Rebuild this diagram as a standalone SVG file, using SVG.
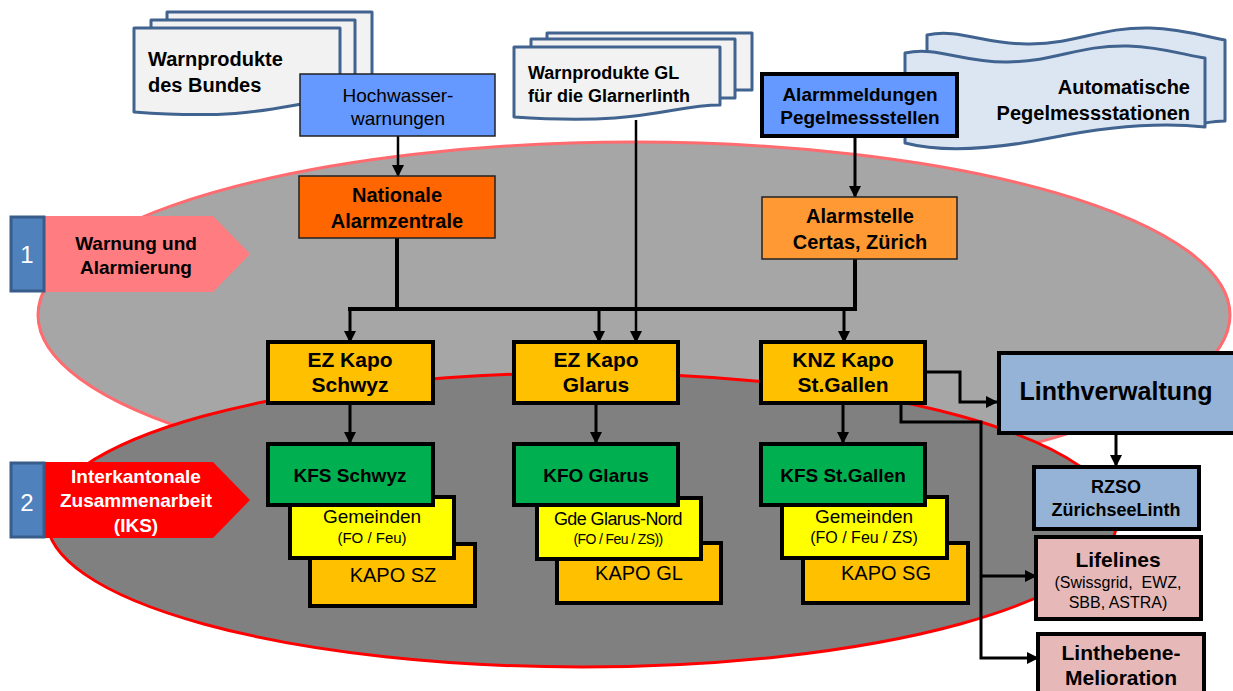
<svg xmlns="http://www.w3.org/2000/svg" width="1233" height="691" viewBox="0 0 1233 691">
  <style>
    text { font-family: "Liberation Sans", Arial, sans-serif; fill: #000; }
    .b { font-weight: bold; }
    .c { text-anchor: middle; }
    .w { fill: #fff; }
    .doc { fill: #f2f2f2; stroke: #41638f; stroke-width: 3; stroke-linejoin: round; }
    .tape { fill: #dce6f2; stroke: #41638f; stroke-width: 3; stroke-linejoin: round; }
    .heavy { stroke: #000; stroke-width: 4; }
    .thin { stroke: #222; stroke-width: 1.5; }
    .num { fill: #4f81bd; stroke: #385d8a; stroke-width: 3; }
    .conn path { fill: none; stroke: #000; stroke-width: 3; }
    .conn path.bus { stroke-width: 4; }
    .conn path.fine { stroke-width: 2.5; }
  </style>
  <defs>
    <marker id="arrow" markerUnits="userSpaceOnUse" markerWidth="12" markerHeight="12" refX="11" refY="6" orient="auto">
      <path d="M0,0 L12,6 L0,12 Z" fill="#000"/>
    </marker>
  </defs>

  <!-- background zones -->
  <g id="zone-warnung">
    <ellipse cx="634" cy="315" rx="596" ry="173" fill="#a6a6a6" stroke="#ff6b6f" stroke-width="3"/>
  </g>
  <g id="zone-iks">
    <ellipse cx="582" cy="520" rx="535" ry="147" fill="#808080" stroke="#ff0000" stroke-width="3"/>
  </g>

  <!-- level labels -->
  <g id="label-1">
    <path d="M44,216 H213 L250,254 L213,292 H44 Z" fill="#ff7c80"/>
    <rect x="11" y="217" width="33" height="74" class="num"/>
    <text x="27" y="263" class="c w" font-size="24">1</text>
    <text x="136" y="250" class="b c" font-size="19">Warnung und</text>
    <text x="136" y="274" class="b c" font-size="19">Alarmierung</text>
  </g>
  <g id="label-2">
    <path d="M44,462 H213 L250,500 L213,538 H44 Z" fill="#ff0000"/>
    <rect x="11" y="463" width="33" height="74" class="num"/>
    <text x="27" y="511" class="c w" font-size="24">2</text>
    <text x="136" y="483" class="b c w" font-size="19">Interkantonale</text>
    <text x="136" y="507" class="b c w" font-size="19">Zusammenarbeit</text>
    <text x="136" y="532" class="b c w" font-size="19">(IKS)</text>
  </g>

  <!-- source documents -->
  <g id="warnprodukte-bund">
    <path class="doc" d="M167,20 V12 H372 V86 H355"/>
    <path class="doc" d="M151,28 V20 H355 V94 H340"/>
    <path class="doc" d="M134,28 H340 V100 C290,100 268,122 134,112 Z"/>
    <text x="148" y="66" class="b" font-size="20">Warnprodukte</text>
    <text x="148" y="92" class="b" font-size="20">des Bundes</text>
  </g>
  <g id="warnprodukte-gl">
    <path class="doc" d="M547,39 V33 H752 V90 H735"/>
    <path class="doc" d="M531,47 V39 H735 V98 H720"/>
    <path class="doc" d="M514,47 H720 V105 C670,105 648,126 514,117 Z"/>
    <text x="528" y="79" class="b" font-size="18">Warnprodukte GL</text>
    <text x="528" y="102" class="b" font-size="18">für die Glarnerlinth</text>
  </g>
  <g id="pegelmessstationen">
    <path class="tape" d="M927,53 V35 C960,28 985,45 1030,44 C1080,43 1100,27 1150,28 C1185,29 1210,38 1225,40 V121 C1218,121 1211,122 1205,123"/>
    <path class="tape" d="M905,53 C938,46 963,63 1008,62 C1058,61 1078,45 1128,46 C1163,47 1188,56 1205,58 V127 C1160,122 1110,126 1050,138 C990,150 940,152 905,143 Z"/>
    <text x="1190" y="94" class="b" font-size="20" text-anchor="end">Automatische</text>
    <text x="1190" y="120" class="b" font-size="20" text-anchor="end">Pegelmessstationen</text>
  </g>

  <!-- connectors -->
  <g id="connectors" class="conn">
    <path class="fine" d="M398,136 V176" marker-end="url(#arrow)"/>
    <path d="M855,137 V197" marker-end="url(#arrow)"/>
    <path class="bus" d="M397,238 V309"/>
    <path class="bus" d="M855,259 V309"/>
    <path class="bus" d="M348,309 H857"/>
    <path d="M350,309 V342" marker-end="url(#arrow)"/>
    <path d="M599,309 V342" marker-end="url(#arrow)"/>
    <path d="M844,309 V342" marker-end="url(#arrow)"/>
    <path class="fine" d="M636,120 V342" marker-end="url(#arrow)"/>
    <path d="M350,403 V443" marker-end="url(#arrow)"/>
    <path d="M596,403 V443" marker-end="url(#arrow)"/>
    <path d="M843,403 V443" marker-end="url(#arrow)"/>
    <path d="M925,372 H960 V402 H997" marker-end="url(#arrow)"/>
    <path d="M901,403 V422 H981 V658 H1038" marker-end="url(#arrow)"/>
    <path d="M981,576 H1036" marker-end="url(#arrow)"/>
    <path d="M1116,433 V466" marker-end="url(#arrow)"/>
  </g>

  <!-- level 1 nodes -->
  <g id="hochwasserwarnungen">
    <rect x="300" y="74" width="195" height="62" fill="#6699ff" class="thin"/>
    <text x="398" y="102" class="c" font-size="19">Hochwasser-</text>
    <text x="398" y="125" class="c" font-size="19">warnungen</text>
  </g>
  <g id="alarmmeldungen">
    <rect x="762" y="74" width="195" height="62" fill="#6699ff" class="heavy"/>
    <text x="860" y="101" class="b c" font-size="19">Alarmmeldungen</text>
    <text x="860" y="124" class="b c" font-size="19">Pegelmessstellen</text>
  </g>
  <g id="nationale-alarmzentrale">
    <rect x="299" y="176" width="196" height="62" fill="#ff6600" class="thin"/>
    <text x="397" y="202" class="b c" font-size="20">Nationale</text>
    <text x="397" y="228" class="b c" font-size="20">Alarmzentrale</text>
  </g>
  <g id="alarmstelle-certas">
    <rect x="762" y="197" width="195" height="62" fill="#ff9933" class="thin"/>
    <text x="860" y="223" class="b c" font-size="20">Alarmstelle</text>
    <text x="860" y="249" class="b c" font-size="20">Certas, Zürich</text>
  </g>

  <!-- cantonal emergency centres -->
  <g id="ez-kapo-schwyz">
    <rect x="268" y="342" width="165" height="61" fill="#ffc000" class="heavy"/>
    <text x="350" y="367" class="b c" font-size="21">EZ Kapo</text>
    <text x="350" y="392" class="b c" font-size="21">Schwyz</text>
  </g>
  <g id="ez-kapo-glarus">
    <rect x="514" y="342" width="164" height="61" fill="#ffc000" class="heavy"/>
    <text x="596" y="367" class="b c" font-size="21">EZ Kapo</text>
    <text x="596" y="392" class="b c" font-size="21">Glarus</text>
  </g>
  <g id="knz-kapo-stgallen">
    <rect x="761" y="342" width="164" height="61" fill="#ffc000" class="heavy"/>
    <text x="843" y="367" class="b c" font-size="21">KNZ Kapo</text>
    <text x="843" y="392" class="b c" font-size="21">St.Gallen</text>
  </g>

  <!-- Schwyz stack -->
  <g id="kapo-sz">
    <rect x="310" y="544" width="165" height="62" fill="#ffc000" class="heavy"/>
    <text x="393" y="582" class="c" font-size="20">KAPO SZ</text>
  </g>
  <g id="gemeinden-sz">
    <rect x="290" y="497" width="164" height="61" fill="#ffff00" class="heavy"/>
    <text x="372" y="523" class="c" font-size="19">Gemeinden</text>
    <text x="372" y="543" class="c" font-size="15">(FO / Feu)</text>
  </g>
  <g id="kfs-schwyz">
    <rect x="268" y="444" width="165" height="61" fill="#00b050" class="heavy"/>
    <text x="350" y="482" class="b c" font-size="19">KFS Schwyz</text>
  </g>

  <!-- Glarus stack -->
  <g id="kapo-gl">
    <rect x="557" y="543" width="164" height="60" fill="#ffc000" class="heavy"/>
    <text x="639" y="580" class="c" font-size="20">KAPO GL</text>
  </g>
  <g id="gde-glarus-nord">
    <rect x="537" y="498" width="164" height="61" fill="#ffff00" class="heavy"/>
    <text x="618" y="525" class="c" font-size="18" letter-spacing="-0.6">Gde Glarus-Nord</text>
    <text x="618" y="544" class="c" font-size="14" letter-spacing="-0.6">(FO / Feu / ZS))</text>
  </g>
  <g id="kfo-glarus">
    <rect x="514" y="444" width="164" height="61" fill="#00b050" class="heavy"/>
    <text x="596" y="482" class="b c" font-size="19">KFO Glarus</text>
  </g>

  <!-- St.Gallen stack -->
  <g id="kapo-sg">
    <rect x="803" y="543" width="165" height="60" fill="#ffc000" class="heavy"/>
    <text x="886" y="580" class="c" font-size="20">KAPO SG</text>
  </g>
  <g id="gemeinden-sg">
    <rect x="782" y="497" width="165" height="61" fill="#ffff00" class="heavy"/>
    <text x="864" y="523" class="c" font-size="19">Gemeinden</text>
    <text x="864" y="543" class="c" font-size="16">(FO / Feu / ZS)</text>
  </g>
  <g id="kfs-stgallen">
    <rect x="761" y="444" width="164" height="61" fill="#00b050" class="heavy"/>
    <text x="843" y="482" class="b c" font-size="19">KFS St.Gallen</text>
  </g>

  <!-- right-hand partners -->
  <g id="linthverwaltung">
    <rect x="999" y="353" width="236" height="80" fill="#95b3d7" class="heavy"/>
    <text x="1116" y="400" class="b c" font-size="25">Linthverwaltung</text>
  </g>
  <g id="rzso">
    <rect x="1034" y="467" width="165" height="62" fill="#95b3d7" class="heavy"/>
    <text x="1116" y="493" class="b c" font-size="18">RZSO</text>
    <text x="1116" y="516" class="b c" font-size="18">ZürichseeLinth</text>
  </g>
  <g id="lifelines">
    <rect x="1036" y="537" width="165" height="82" fill="#e6b9b8" class="heavy"/>
    <text x="1118" y="567" class="b c" font-size="21">Lifelines</text>
    <text x="1118" y="588" class="c" font-size="16" xml:space="preserve">(Swissgrid,  EWZ,</text>
    <text x="1118" y="608" class="c" font-size="16">SBB, ASTRA)</text>
  </g>
  <g id="linthebene-melioration">
    <rect x="1038" y="634" width="166" height="62" fill="#e6b9b8" class="heavy"/>
    <text x="1121" y="660" class="b c" font-size="21">Linthebene-</text>
    <text x="1121" y="685" class="b c" font-size="21">Melioration</text>
  </g>
</svg>
